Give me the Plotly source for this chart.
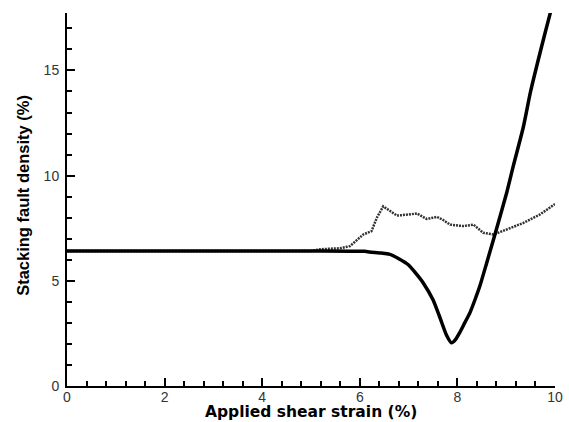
import plotly.graph_objects as go

# Solid curve
solid_x = [0.0, 5.0, 6.1, 6.2, 6.45, 6.6, 6.8, 7.0, 7.15, 7.3, 7.5, 7.65, 7.78, 7.88,
           7.96, 8.05, 8.15, 8.26, 8.36, 8.46, 8.6, 8.75, 9.0, 9.15, 9.35, 9.5, 9.7, 9.9, 10.0]
solid_y = [6.42, 6.42, 6.4, 6.37, 6.32, 6.27, 6.05, 5.75, 5.35, 4.9, 4.1, 3.2, 2.4, 2.05,
           2.2, 2.55, 3.0, 3.5, 4.1, 4.75, 5.85, 7.05, 9.1, 10.5, 12.3, 14.0, 15.9, 17.7, 18.5]

# Dotted curve
dot_x = [0.0, 5.0, 5.2, 5.6, 5.8, 6.07, 6.24, 6.35, 6.48, 6.62, 6.76, 7.0, 7.17, 7.37,
         7.58, 7.7, 7.85, 8.12, 8.33, 8.53, 8.74, 9.01, 9.35, 9.69, 10.0]
dot_y = [6.42, 6.42, 6.5, 6.55, 6.65, 7.2, 7.36, 8.0, 8.54, 8.3, 8.1, 8.15, 8.2, 7.94,
         8.04, 7.9, 7.67, 7.6, 7.67, 7.28, 7.2, 7.44, 7.75, 8.15, 8.65]

x_title = "Applied shear strain (%)"
y_title = "Stacking fault density (%)"

fig = go.Figure()
fig.add_trace(go.Scatter(x=dot_x, y=dot_y, mode="lines",
                         line=dict(color="#333333", width=2.5, dash="2px,1px"),
                         showlegend=False))
fig.add_trace(go.Scatter(x=solid_x, y=solid_y, mode="lines",
                         line=dict(color="black", width=3.5, shape="spline", smoothing=0.6),
                         showlegend=False))

tickfont = dict(family="Liberation Sans Narrow, Liberation Sans, Arial", size=14, color="#333333")

fig.update_layout(
    width=569, height=422,
    margin=dict(l=67, r=14, t=13, b=36),
    paper_bgcolor="white", plot_bgcolor="white",
    xaxis=dict(range=[0, 10], tickmode="linear", tick0=0, dtick=2, automargin=False,
               showgrid=False, zeroline=False, showline=True, linecolor="black", linewidth=2,
               ticks="inside", ticklen=8, tickwidth=2, tickcolor="black",
               minor=dict(dtick=0.4, tick0=0, ticks="inside", ticklen=5, tickwidth=1.5, tickcolor="black"),
               tickfont=tickfont, ticklabelstandoff=-3, ticklabeloverflow="allow"),
    yaxis=dict(range=[0, 17.73], tickmode="linear", tick0=0, dtick=5, automargin=False,
               showgrid=False, zeroline=False, showline=True, linecolor="black", linewidth=2,
               ticks="inside", ticklen=8, tickwidth=2, tickcolor="black",
               minor=dict(dtick=1, tick0=0, ticks="inside", ticklen=5, tickwidth=1.5, tickcolor="black"),
               tickfont=tickfont, ticklabelstandoff=3, ticklabeloverflow="allow"),
    annotations=[
        dict(text=x_title, xref="paper", yref="paper", x=0.5, y=-0.07,
             xanchor="center", yanchor="middle", showarrow=False, borderpad=0,
             font=dict(family="DejaVu Sans", size=15.5, color="black", weight="bold")),
        dict(text=y_title, xref="paper", yref="paper", x=-0.090, y=0.51, textangle=-90,
             xanchor="center", yanchor="middle", showarrow=False,
             font=dict(family="Liberation Sans", size=16.5, color="black", weight="bold")),
    ],
)

# Remove the default 8px page margin so the figure fills the window exactly.
fig.write_html("out.html", config={"displayModeBar": False},
               post_script="document.body.style.margin='0';")
